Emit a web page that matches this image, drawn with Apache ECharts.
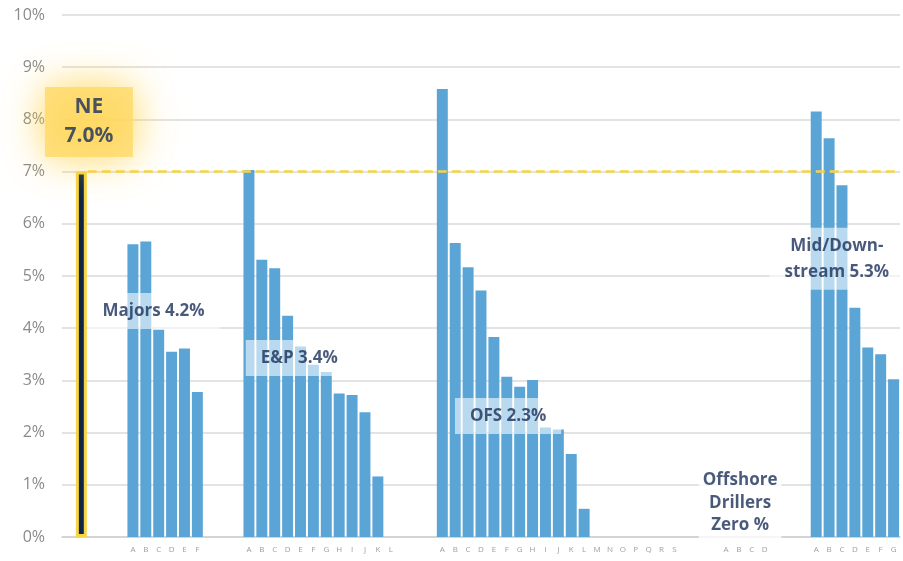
<!DOCTYPE html>
<html lang="en">
<head>
    <meta charset="utf-8">
    <title>Dividend yield by peer group</title>
    <script src="https://cdn.jsdelivr.net/npm/echarts@6/dist/echarts.min.js"></script>
    <style>
        html, body { margin: 0; padding: 0; background: #fff; }
        #main { width: 903px; height: 561px; }
    </style>
</head>
<body>
<div id="main"></div>
<script>
    // values (percent)
    var neValue = 7.0;
    var majors = [5.61, 5.66, 3.97, 3.55, 3.61, 2.78];
    var eAndP = [7.03, 5.31, 5.15, 4.24, 3.65, 3.30, 3.16, 2.75, 2.72, 2.39, 1.16, 0];
    var ofs = [8.58, 5.63, 5.17, 4.72, 3.83, 3.07, 2.88, 3.01, 2.10, 2.06, 1.59, 0.54, 0, 0, 0, 0, 0, 0, 0];
    var offshore = [0, 0, 0, 0];
    var midDown = [8.15, 7.64, 6.74, 4.39, 3.63, 3.50, 3.02];
    var letters = 'ABCDEFGHIJKLMNOPQRS'.split('');
    var yTicks = [0, 1, 2, 3, 4, 5, 6, 7, 8, 9, 10];

    // group labels: text, slot (x in category widths), y in %
    var notes = [
        {name: 'Majors 4.2%', value: [7.1, 4.33]},
        {name: 'E&P 3.4%', value: [18.4, 3.43]},
        {name: 'OFS 2.3%', value: [34.6, 2.32]},
        {name: 'Mid/Down-\nstream 5.3%', value: [60.1, 5.33]}
    ];
    var offshoreNote = {name: 'Offshore\nDrillers\nZero %', value: [52.6, 0.65]};
    var neNote = {name: 'NE\n7.0%', value: [2.09, 7.95]};

    var navy = '#1A2F5A';
    var blue = '#5BA5D6';
    var yellow = '#F7D445';

    // build category axis with 3 empty slots between groups
    var categories = [];
    var values = [];
    function gap(n) {
        for (var i = 0; i < n; i++) { categories.push(''); values.push(null); }
    }
    function group(arr) {
        arr.forEach(function (v, i) { categories.push(letters[i]); values.push(v); });
    }
    gap(1);
    categories.push('');
    values.push({
        value: neValue,
        itemStyle: {color: '#0F2746', borderColor: yellow, borderWidth: 3}
    });
    gap(3); group(majors);
    gap(3); group(eAndP);
    gap(3); group(ofs);
    gap(3); group(offshore);
    gap(3); group(midDown);

    var myChart = echarts.init(document.getElementById('main'));

    var noteLabel = {
        show: true,
        position: 'inside',
        formatter: '{b}',
        color: navy,
        fontFamily: 'Open Sans',
        fontWeight: 'bold',
        fontSize: 17,
        lineHeight: 26,
        backgroundColor: 'rgba(255,255,255,0.72)',
        padding: [5, 15]
    };

    var option = {
        animation: false,
        grid: {left: 62, right: 3, top: 15, bottom: 24},
        xAxis: [
            {
                type: 'category',
                data: categories,
                axisLine: {lineStyle: {color: '#D0D0D0', width: 1.5}},
                axisTick: {show: false},
                axisLabel: {interval: 0, fontSize: 8, color: '#A0A0A0', margin: 9, fontFamily: 'Open Sans'}
            },
            {type: 'value', min: 0, max: categories.length, show: false}
        ],
        yAxis: {
            type: 'value',
            min: yTicks[0],
            max: yTicks[yTicks.length - 1],
            interval: 1,
            axisLine: {show: false},
            axisTick: {show: false},
            axisLabel: {formatter: '{value}%', fontSize: 16, color: '#8A8A8A', margin: 17, fontFamily: 'Open Sans'},
            splitLine: {lineStyle: {color: '#DADADA', width: 1.5}}
        },
        series: [
            {
                type: 'bar',
                data: values,
                barCategoryGap: '15%',
                itemStyle: {color: blue},
                z: 2
            },
            {
                // dashed NE reference line
                type: 'scatter',
                xAxisIndex: 1,
                data: [],
                z: 3,
                markLine: {
                    silent: true,
                    symbol: 'none',
                    label: {show: false},
                    lineStyle: {color: yellow, type: [9, 5], width: 2.5},
                    data: [[{coord: [2, neValue]}, {coord: [categories.length, neValue]}]]
                }
            },
            {
                type: 'scatter',
                xAxisIndex: 1,
                symbolSize: 0,
                z: 5,
                data: notes,
                label: noteLabel
            },
            {
                type: 'scatter',
                xAxisIndex: 1,
                symbolSize: 0,
                z: 5,
                data: [offshoreNote],
                label: Object.assign({}, noteLabel, {backgroundColor: '#fff', lineHeight: 22.5, padding: [2, 4]})
            },
            {
                type: 'scatter',
                xAxisIndex: 1,
                symbolSize: 0,
                z: 6,
                data: [neNote],
                label: Object.assign({}, noteLabel, {
                    fontSize: 21,
                    lineHeight: 29,
                    width: 50,
                    align: 'center',
                    backgroundColor: '#FFD966',
                    shadowBlur: 40,
                    shadowColor: 'rgba(255,205,50,1)',
                    padding: [6, 19]
                })
            }
        ]
    };

    myChart.setOption(option);
</script>
</body>
</html>
